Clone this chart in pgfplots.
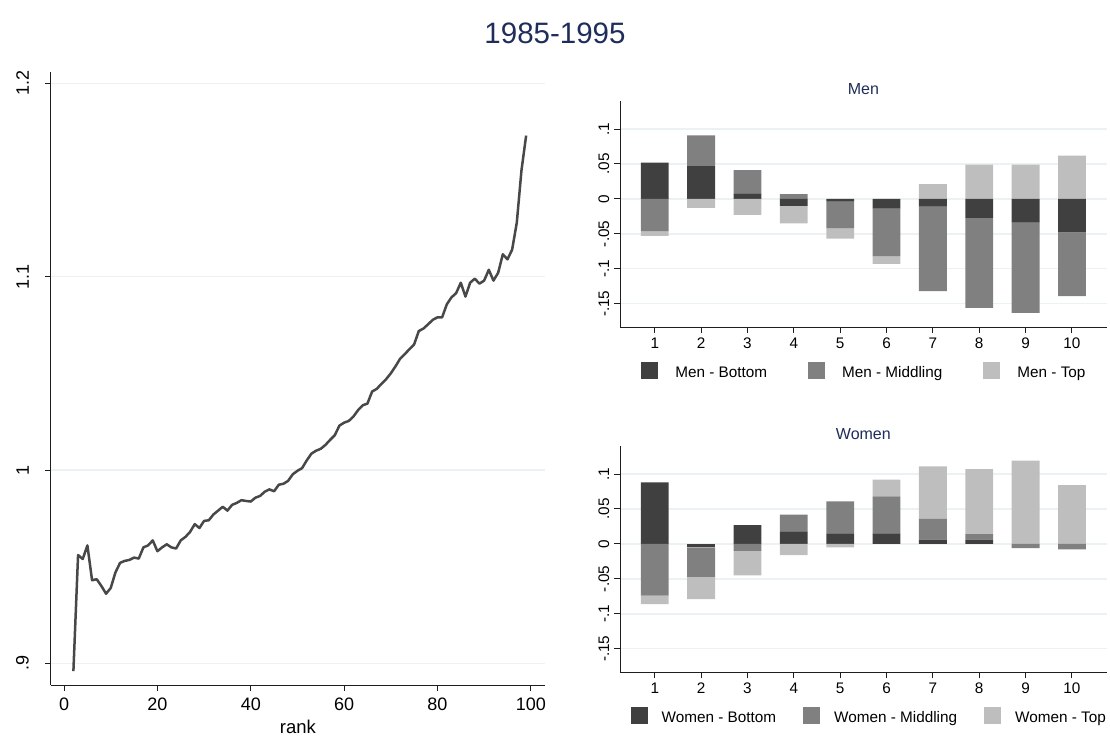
\documentclass[border=0pt]{standalone}
\usepackage{pgfplots}
\pgfplotsset{compat=1.18}
\usepackage{pgfplotstable}
\usepackage{fontspec}
\setmainfont{Liberation Sans}

\definecolor{navyt}{RGB}{30,45,90}
\definecolor{gridc}{RGB}{234,242,243}
\definecolor{cB}{RGB}{64,64,64}
\definecolor{cM}{RGB}{128,128,128}
\definecolor{cT}{RGB}{190,190,190}
\definecolor{linec}{RGB}{72,72,72}
\definecolor{axc}{RGB}{30,30,30}

\pgfplotstableread{
rank val
2 0.896
3 0.956
4 0.954
5 0.961
6 0.943
7 0.9435
8 0.940
9 0.936
10 0.939
11 0.947
12 0.952
13 0.953
14 0.9535
15 0.9547
16 0.9542
17 0.960
18 0.961
19 0.9636
20 0.958
21 0.960
22 0.9616
23 0.960
24 0.9594
25 0.9636
26 0.9654
27 0.968
28 0.972
29 0.970
30 0.9737
31 0.974
32 0.977
33 0.979
34 0.981
35 0.979
36 0.982
37 0.983
38 0.9844
39 0.984
40 0.9837
41 0.9857
42 0.9866
43 0.9888
44 0.990
45 0.989
46 0.9924
47 0.9929
48 0.9944
49 0.9978
50 0.9996
51 1.001
52 1.005
53 1.0085
54 1.010
55 1.011
56 1.013
57 1.0156
58 1.018
59 1.023
60 1.0245
61 1.0254
62 1.0277
63 1.031
64 1.0335
65 1.0344
66 1.0406
67 1.042
68 1.0446
69 1.047
70 1.050
71 1.0536
72 1.0576
73 1.060
74 1.0625
75 1.065
76 1.0719
77 1.0732
78 1.0754
79 1.0777
80 1.079
81 1.079
82 1.0857
83 1.0893
84 1.0915
85 1.0969
86 1.0897
87 1.0969
88 1.099
89 1.0964
90 1.098
91 1.1036
92 1.098
93 1.102
94 1.1116
95 1.109
96 1.114
97 1.128
98 1.155
99 1.173
}\linedata

\pgfplotstableread{
x B M T
1 0.052 -0.046 -0.007
2 0.047 0.044 -0.013
3 0.008 0.033 -0.023
4 -0.010 0.007 -0.025
5 -0.004 -0.038 -0.015
6 -0.014 -0.068 -0.011
7 -0.011 -0.121 0.021
8 -0.027 -0.129 0.049
9 -0.034 -0.129 0.049
10 -0.048 -0.091 0.062
}\mendata

\pgfplotstableread{
x B M T
1 0.088 -0.074 -0.012
2 -0.005 -0.042 -0.032
3 0.027 -0.010 -0.035
4 0.018 0.024 -0.016
5 0.015 0.046 -0.005
6 0.015 0.053 0.024
7 0.006 0.030 0.075
8 0.006 0.008 0.093
9 0.000 -0.006 0.119
10 0.000 -0.008 0.084
}\womendata

\pgfplotsset{
  sqlegend/.style={legend image code/.code={\fill[##1] (0pt,-5.6pt) rectangle (17pt,11.4pt);}},
  stata/.style={
    scale only axis, enlargelimits=false,
    axis x line*=bottom, axis y line*=left,
    axis line style={-, draw=axc, line width=1pt},
    tick align=outside, major tick length=6pt,
    tick style={draw=axc, line width=1pt},
    ymajorgrids, major grid style={draw=gridc, line width=1.4pt},
    every tick label/.append style={inner sep=0pt},
    yticklabel style={rotate=90, anchor=south},
    xticklabel style={anchor=north},
    /pgf/number format/assume math mode=true,
  },
  barpanel/.style={
    stata, width=486.7pt, height=226.6pt,
    xmin=0.25, xmax=10.75, ymin=-0.1837, ymax=0.1405,
    xtick={1,2,...,10},
    ytick={-0.15,-0.1,-0.05,0,0.05,0.1},
    yticklabels={-.15,-.1,-.05,0,.05,.1},
    tick label style={font=\fontsize{15.3}{18}\selectfont},
    xticklabel shift=4pt, yticklabel shift=4.6pt,
    ybar stacked, bar width=0.6,
    every axis plot post/.append style={sqlegend},
  },
}

\begin{document}
\begin{tikzpicture}
\useasboundingbox (0pt,0pt) rectangle (1110pt,737pt);

\node[font=\fontsize{29.5}{34}\selectfont, text=navyt] at (555pt,704pt) {1985-1995};

% Left line chart
\begin{axis}[stata, at={(51pt,52pt)}, anchor=south west,
  width=493.8pt, height=613pt,
  xmin=-2.8, xmax=103, ymin=0.8888, ymax=1.2059,
  xtick={0,20,...,100},
  ytick={0.9,1,1.1,1.2}, yticklabels={.9,1,1.1,1.2},
  tick label style={font=\fontsize{18}{21}\selectfont},
  xticklabel shift=6.5pt, yticklabel shift=16pt,
  xlabel={rank},
  xlabel style={at={(axis description cs:0.5,-0.0685)}, anchor=center, font=\fontsize{18.5}{22}\selectfont},
]
\addplot[color=linec, line width=2.5pt, line join=round, mark=none] table[x=rank, y=val] {\linedata};
\end{axis}

% Men panel: positive parts
\begin{axis}[barpanel, at={(620pt,409.7pt)}, anchor=south west,
  title={Men},
  title style={at={(axis description cs:0.5,1.024)}, anchor=center, font=\fontsize{16}{19}\selectfont, text=navyt},
  legend style={at={(axis description cs:0.5,-0.19)}, anchor=center, draw=none, fill=none,
    font=\fontsize{15.3}{18}\selectfont, legend columns=3,
    nodes={inner sep=0pt},
    /tikz/every odd column/.append style={column sep=17pt},
    /tikz/every even column/.append style={column sep=41pt}},
  legend cell align=left,
]
\addplot[fill=cB, draw=none] table[x=x, y expr={max(\thisrow{B},0)}] {\mendata};
\addlegendentry{Men - Bottom}
\addplot[fill=cM, draw=none] table[x=x, y expr={max(\thisrow{M},0)}] {\mendata};
\addlegendentry{Men - Middling}
\addplot[fill=cT, draw=none] table[x=x, y expr={max(\thisrow{T},0)}] {\mendata};
\addlegendentry{Men - Top}
\end{axis}
% Men panel: negative parts
\begin{axis}[barpanel, hide axis, at={(620pt,409.7pt)}, anchor=south west]
\addplot[fill=cB, draw=none] table[x=x, y expr={min(\thisrow{B},0)}] {\mendata};
\addplot[fill=cM, draw=none] table[x=x, y expr={min(\thisrow{M},0)}] {\mendata};
\addplot[fill=cT, draw=none] table[x=x, y expr={min(\thisrow{T},0)}] {\mendata};
\end{axis}

% Women panel: positive parts
\begin{axis}[barpanel, at={(620pt,64.7pt)}, anchor=south west,
  title={Women},
  title style={at={(axis description cs:0.5,1.025)}, anchor=center, font=\fontsize{16}{19}\selectfont, text=navyt},
  legend style={at={(axis description cs:0.51,-0.191)}, anchor=center, draw=none, fill=none,
    font=\fontsize{15.3}{18}\selectfont, legend columns=3,
    nodes={inner sep=0pt},
    /tikz/every odd column/.append style={column sep=14pt},
    /tikz/every even column/.append style={column sep=27pt}},
  legend cell align=left,
]
\addplot[fill=cB, draw=none] table[x=x, y expr={max(\thisrow{B},0)}] {\womendata};
\addlegendentry{Women - Bottom}
\addplot[fill=cM, draw=none] table[x=x, y expr={max(\thisrow{M},0)}] {\womendata};
\addlegendentry{Women - Middling}
\addplot[fill=cT, draw=none] table[x=x, y expr={max(\thisrow{T},0)}] {\womendata};
\addlegendentry{Women - Top}
\end{axis}
% Women panel: negative parts
\begin{axis}[barpanel, hide axis, at={(620pt,64.7pt)}, anchor=south west]
\addplot[fill=cB, draw=none] table[x=x, y expr={min(\thisrow{B},0)}] {\womendata};
\addplot[fill=cM, draw=none] table[x=x, y expr={min(\thisrow{M},0)}] {\womendata};
\addplot[fill=cT, draw=none] table[x=x, y expr={min(\thisrow{T},0)}] {\womendata};
\end{axis}
\end{tikzpicture}
\end{document}
